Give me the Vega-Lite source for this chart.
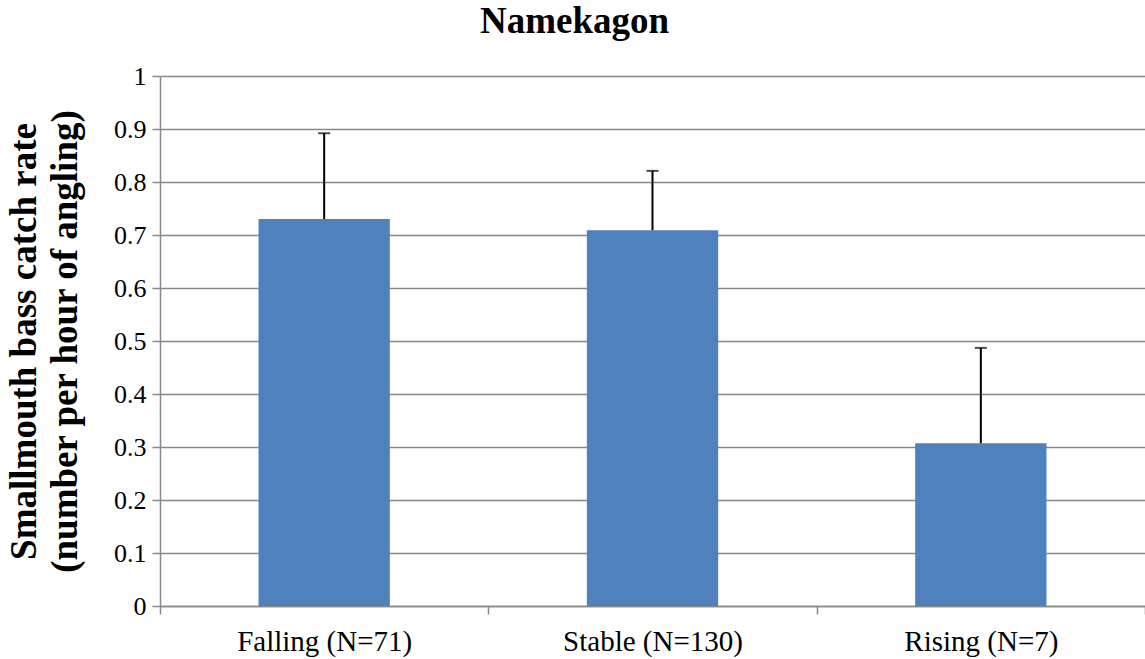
{
  "$schema": "https://vega.github.io/schema/vega-lite/v6.json",
  "autosize": "none",
  "width": 985,
  "height": 530,
  "padding": {"left": 160, "top": 76, "right": 0, "bottom": 53},
  "background": "white",
  "title": {
    "text": "Namekagon",
    "font": "Liberation Serif",
    "fontSize": 37,
    "fontWeight": "bold",
    "color": "black",
    "anchor": "middle",
    "dx": -78,
    "offset": 22
  },
  "data": {
    "values": [
      {"condition": "Falling (N=71)", "rate": 0.73, "upper": 0.892},
      {"condition": "Stable (N=130)", "rate": 0.709, "upper": 0.821},
      {"condition": "Rising (N=7)", "rate": 0.307, "upper": 0.487}
    ]
  },
  "config": {
    "view": {"stroke": null},
    "font": "Liberation Serif"
  },
  "encoding": {
    "x": {
      "field": "condition",
      "type": "nominal",
      "sort": null,
      "scale": {"paddingInner": 0, "paddingOuter": 0},
      "axis": {
        "title": null,
        "labelFont": "Liberation Serif",
        "labelColor": "black",
        "labelAngle": 0,
        "labelFontSize": 29,
        "labelPadding": 13,
        "tickBand": "extent",
        "tickSize": 8,
        "tickColor": "#888888",
        "domainColor": "#888888",
        "domainWidth": 1.5,
        "tickWidth": 1.5
      }
    }
  },
  "layer": [
    {
      "mark": {"type": "bar", "color": "#4F81BD", "width": {"band": 0.4}},
      "encoding": {
        "y": {
          "field": "rate",
          "type": "quantitative",
          "scale": {"domain": [0, 1]},
          "axis": {
            "title": ["Smallmouth bass catch rate", "(number per hour of angling)"],
            "titleFont": "Liberation Serif",
            "titleColor": "black",
            "titleFontSize": 37,
            "titleFontWeight": "bold",
            "titleLineHeight": 41,
            "titlePadding": 29,
            "labelFont": "Liberation Serif",
            "labelColor": "black",
            "labelFontSize": 26,
            "labelPadding": 6,
            "tickCount": 10,
            "format": ".1~f",
            "tickSize": 8,
            "tickColor": "#888888",
            "tickWidth": 1.5,
            "domainColor": "#888888",
            "domainWidth": 1.5,
            "grid": true,
            "gridColor": "#888888",
            "gridWidth": 1.5
          }
        }
      }
    },
    {
      "mark": {"type": "rule", "color": "black", "strokeWidth": 2},
      "encoding": {
        "y": {"field": "rate", "type": "quantitative"},
        "y2": {"field": "upper"}
      }
    },
    {
      "mark": {"type": "tick", "color": "black", "thickness": 2, "size": 12},
      "encoding": {
        "y": {"field": "upper", "type": "quantitative"}
      }
    }
  ]
}
